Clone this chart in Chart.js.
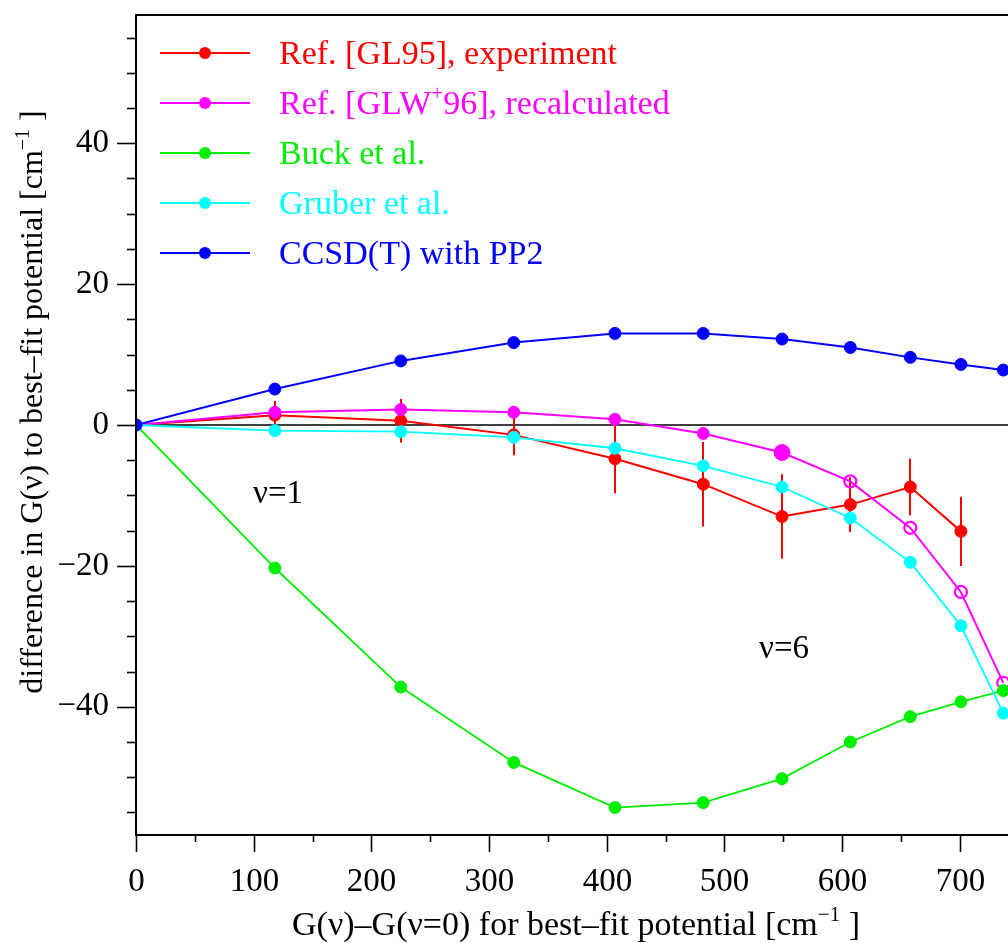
<!DOCTYPE html>
<html>
<head>
<meta charset="utf-8">
<title>G(v) differences</title>
<script src="https://cdn.jsdelivr.net/npm/chart.js@4.4.0/dist/chart.umd.min.js"></script>
<style>
  html, body { margin: 0; padding: 0; background: #fff; }
  #wrap { width: 1008px; height: 943px; position: relative; }
</style>
</head>
<body>
<div id="wrap"><canvas id="chart" width="1008" height="943"></canvas></div>
<script>
// vibrational level energies G(v)-G(v=0) of the best-fit potential, v = 0..10
const levels = [0, 118, 225, 321, 407, 482, 549, 607, 658, 701, 737];

// differences to the best-fit potential [cm^-1]
const experiment    = [0, 1.4, 0.6, -1.4, -4.8, -8.4, -13.0, -11.3, -8.8, -15.1];
const experimentErr = [0, 2.0, 3.1, 2.9, 4.9, 6.0, 6.0, 3.9, 4.0, 4.9];
const recalculated  = [0, 1.8, 2.2, 1.8, 0.8, -1.2, -3.9, -8.0, -14.6, -23.7, -36.6];
const buck          = [0, -20.3, -37.2, -47.9, -54.3, -53.6, -50.2, -45.0, -41.4, -39.3, -37.7];
const gruber        = [0, -0.8, -0.95, -1.75, -3.3, -5.8, -8.8, -13.2, -19.5, -28.5, -40.9];
const ccsdt         = [0, 5.1, 9.1, 11.7, 13.0, 13.0, 12.2, 11.0, 9.6, 8.6, 7.8];

// recalculated values from v=7 on are shown as open circles
const recalcOpenFrom = 7;
const recalcBigPoint = 6;

const xTicks = [0, 100, 200, 300, 400, 500, 600, 700];
const yTicks = [-40, -20, 0, 20, 40];

const SERIF = '"Liberation Serif", "Times New Roman", "DejaVu Serif", serif';
const RED = '#ff0000', MAGENTA = '#ff00ff', GREEN = '#00ee00', CYAN = '#00ffff', BLUE = '#0000ff';

function toPoints(ys) {
  return ys.map((y, i) => ({ x: levels[i], y: y }));
}

// text with optional superscript parts: [[text, isSup], ...]
function drawRich(ctx, parts, x, y, size, align) {
  const supSize = Math.round(size * 0.62);
  let total = 0;
  parts.forEach(p => {
    ctx.font = (p[1] ? supSize : size) + 'px ' + SERIF;
    total += ctx.measureText(p[0]).width;
  });
  let cx = align === 'center' ? x - total / 2 : x;
  ctx.textAlign = 'left';
  ctx.textBaseline = 'alphabetic';
  parts.forEach(p => {
    ctx.font = (p[1] ? supSize : size) + 'px ' + SERIF;
    ctx.fillText(p[0], cx, p[1] ? y - size * 0.42 : y);
    cx += ctx.measureText(p[0]).width;
  });
}

const legendItems = [
  { color: RED,     parts: [['Ref. [GL95], experiment', false]] },
  { color: MAGENTA, parts: [['Ref. [GLW', false], ['+', true], ['96], recalculated', false]] },
  { color: GREEN,   parts: [['Buck et al.', false]] },
  { color: CYAN,    parts: [['Gruber et al.', false]] },
  { color: BLUE,    parts: [['CCSD(T) with PP2', false]] }
];

const underlay = {
  id: 'underlay',
  beforeDatasetsDraw(chart) {
    const { ctx, chartArea: a, scales: { x, y } } = chart;
    ctx.save();
    // zero line
    const y0 = y.getPixelForValue(0);
    ctx.strokeStyle = '#000';
    ctx.lineWidth = 1.6;
    ctx.beginPath();
    ctx.moveTo(a.left, y0);
    ctx.lineTo(a.right, y0);
    ctx.stroke();
    // experimental error bars
    ctx.strokeStyle = RED;
    ctx.lineWidth = 2;
    experiment.forEach((v, i) => {
      const e = experimentErr[i];
      if (!e) return;
      const px = Math.round(x.getPixelForValue(levels[i]));
      ctx.beginPath();
      ctx.moveTo(px, y.getPixelForValue(v + e));
      ctx.lineTo(px, y.getPixelForValue(v - e));
      ctx.stroke();
    });
    ctx.restore();
  }
};

const frame = {
  id: 'frame',
  afterDraw(chart) {
    const { ctx, chartArea: a, scales: { x, y } } = chart;
    ctx.save();
    ctx.strokeStyle = '#000';
    ctx.lineWidth = 2;
    ctx.beginPath();
    ctx.moveTo(a.right, a.top);
    ctx.lineTo(a.left, a.top);
    ctx.lineTo(a.left, a.bottom);
    ctx.lineTo(a.right, a.bottom);
    ctx.stroke();

    // tick marks, major every 20 / 100, minor every 5 / 50
    ctx.lineWidth = 1.6;
    y.ticks.forEach(t => {
      const r = Math.abs(t.value % 5);
      if (r > 1e-6 && Math.abs(r - 5) > 1e-6) return;
      const major = Math.abs(t.value % 20) < 1e-6;
      const py = Math.round(y.getPixelForValue(t.value)) + 0.5;
      ctx.beginPath();
      ctx.moveTo(a.left - (major ? 19 : 9), py);
      ctx.lineTo(a.left, py);
      ctx.stroke();
    });
    ctx.fillStyle = '#000';
    ctx.font = '33px ' + SERIF;
    ctx.textAlign = 'center';
    ctx.textBaseline = 'alphabetic';
    x.ticks.forEach(t => {
      if (Math.abs(t.value % 50) > 1e-6) return;
      const major = Math.abs(t.value % 100) < 1e-6;
      const px = Math.round(x.getPixelForValue(t.value)) + 0.5;
      ctx.beginPath();
      ctx.moveTo(px, a.bottom);
      ctx.lineTo(px, a.bottom + (major ? 17 : 7));
      ctx.stroke();
      if (xTicks.includes(t.value)) ctx.fillText(String(t.value), px, a.bottom + 56);
    });

    // axis titles
    drawRich(ctx, [['G(\u03bd)\u2013G(\u03bd=0) for best\u2013fit potential [cm', false], ['\u22121', true], [' ]', false]],
      576, 935, 34, 'center');
    ctx.save();
    ctx.translate(42, 402);
    ctx.rotate(-Math.PI / 2);
    drawRich(ctx, [['difference in G(\u03bd) to best\u2013fit potential [cm', false], ['\u22121', true], [' ]', false]],
      0, 0, 32, 'center');
    ctx.restore();

    // level markers
    ctx.font = '33px ' + SERIF;
    ctx.textAlign = 'left';
    ctx.textBaseline = 'alphabetic';
    ctx.fillText('\u03bd=1', 253, 503);
    ctx.fillText('\u03bd=6', 759, 658);

    // legend
    legendItems.forEach((item, i) => {
      const ly = 53 + i * 50;
      ctx.strokeStyle = item.color;
      ctx.lineWidth = 2;
      ctx.beginPath();
      ctx.moveTo(160, ly);
      ctx.lineTo(250, ly);
      ctx.stroke();
      ctx.fillStyle = item.color;
      ctx.beginPath();
      ctx.arc(205, ly, 6, 0, Math.PI * 2);
      ctx.fill();
      drawRich(ctx, item.parts, 279, ly + 11, 34, 'left');
    });
    ctx.restore();
  }
};

const recalcFill = recalculated.map((v, i) => i >= recalcOpenFrom ? 'rgba(0,0,0,0)' : MAGENTA);
const recalcRadius = recalculated.map((v, i) => i === recalcBigPoint ? 8 : 6);
const recalcBorder = recalculated.map((v, i) => i >= recalcOpenFrom ? 2.2 : 1);

function series(label, data, color, order, extra) {
  return Object.assign({
    label: label,
    data: toPoints(data),
    borderColor: color,
    backgroundColor: color,
    pointBackgroundColor: color,
    pointBorderColor: color,
    borderWidth: 2,
    pointRadius: 6,
    pointBorderWidth: 1,
    pointHoverRadius: 6,
    tension: 0,
    order: order
  }, extra || {});
}

// keep the plot area fixed: no extra room for overhanging edge labels
function fixX(s) {
  s.height = 108;
  s.paddingLeft = 0;
  s.paddingRight = 0;
}
function fixY(s) {
  s.width = 136;
  s.paddingTop = 0;
  s.paddingBottom = 0;
}

new Chart(document.getElementById('chart'), {
  type: 'line',
  data: {
    datasets: [
      series('Ref. [GL95], experiment', experiment, RED, 5),
      series('Ref. [GLW+96], recalculated', recalculated, MAGENTA, 4, {
        pointBackgroundColor: recalcFill,
        pointRadius: recalcRadius,
        pointBorderWidth: recalcBorder
      }),
      series('Buck et al.', buck, GREEN, 3, { borderWidth: 1.8 }),
      series('Gruber et al.', gruber, CYAN, 2, { borderWidth: 1.8 }),
      series('CCSD(T) with PP2', ccsdt, BLUE, 1)
    ]
  },
  options: {
    responsive: false,
    animation: false,
    events: [],
    layout: { autoPadding: false, padding: { top: 15, right: 0, left: 0, bottom: 0 } },
    plugins: {
      legend: { display: false },
      tooltip: { enabled: false }
    },
    scales: {
      x: {
        type: 'linear',
        min: 0,
        max: 741,
        grid: { display: false, drawTicks: false },
        border: { display: false },
        afterFit: fixX,
        // labels are painted together with the tick marks in the frame plugin
        ticks: {
          display: false,
          stepSize: 50,
          includeBounds: false,
          autoSkip: false,
          maxRotation: 0
        }
      },
      y: {
        type: 'linear',
        min: -58.2,
        max: 58.2,
        grid: { display: false, drawTicks: false },
        border: { display: false },
        afterFit: fixY,
        ticks: {
          stepSize: 5,
          includeBounds: false,
          autoSkip: false,
          padding: 27,
          color: '#000',
          font: { family: SERIF, size: 33 },
          callback: v => yTicks.includes(v) ? (v < 0 ? '\u2212' + Math.abs(v) : String(v)) : ''
        }
      }
    }
  },
  plugins: [underlay, frame]
});
</script>
</body>
</html>
